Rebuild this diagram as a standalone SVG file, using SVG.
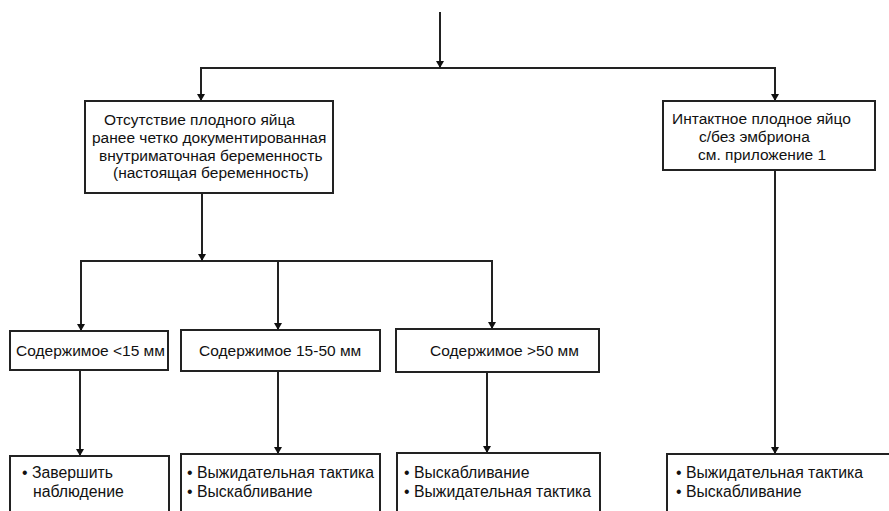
<svg xmlns="http://www.w3.org/2000/svg" width="889" height="511" viewBox="0 0 889 511">
<style>
.box{fill:#fff;stroke:#222;stroke-width:2}
.ln{fill:none;stroke:#222;stroke-width:2}
text{font-family:"Liberation Sans",Arial,sans-serif;font-size:15.5px;fill:#111}
.b text{font-size:15.8px}
</style>
<rect width="889" height="511" fill="#fff"/>
<g id="connectors">
<path class="ln" d="M440,12 V67"/>
<path class="ln" d="M201,101 V68 H775 V101"/>
<path class="ln" d="M202,193 V261"/>
<path class="ln" d="M81,331 V261 H492 V329"/>
<path class="ln" d="M278,261 V330"/>
<path class="ln" d="M80,370 V456"/>
<path class="ln" d="M278,371 V454"/>
<path class="ln" d="M487,372 V453"/>
<path class="ln" d="M775,170 V454"/>
<g fill="#111">
<path d="M436,61 L444,61 L440,68 Z"/>
<path d="M197,94 L205,94 L201,101 Z"/>
<path d="M771,94 L779,94 L775,101 Z"/>
<path d="M198,254 L206,254 L202,261 Z"/>
<path d="M77,324 L85,324 L81,331 Z"/>
<path d="M274,323 L282,323 L278,330 Z"/>
<path d="M488,322 L496,322 L492,329 Z"/>
<path d="M76,449 L84,449 L80,456 Z"/>
<path d="M274,447 L282,447 L278,454 Z"/>
<path d="M483,446 L491,446 L487,453 Z"/>
<path d="M771,447 L779,447 L775,454 Z"/>
</g>
</g>
<g id="node-absent">
<rect class="box" x="85" y="101" width="248" height="92"/>
<text x="104" y="125">Отсутствие плодного яйца</text>
<text x="92" y="143">ранее четко документированная</text>
<text x="99" y="161">внутриматочная беременность</text>
<text x="113" y="178">(настоящая беременность)</text>
</g>
<g id="node-intact">
<rect class="box" x="663" y="101" width="212" height="69"/>
<text x="672" y="124">Интактное плодное яйцо</text>
<text x="699" y="142">с/без эмбриона</text>
<text x="698" y="160">см. приложение 1</text>
</g>
<g id="node-lt15">
<rect class="box" x="10" y="331" width="158" height="39"/>
<text x="16" y="356">Содержимое &lt;15 мм</text>
</g>
<g id="node-15-50">
<rect class="box" x="181" y="330" width="199" height="41"/>
<text x="199" y="356">Содержимое 15-50 мм</text>
</g>
<g id="node-gt50">
<rect class="box" x="396" y="329" width="203" height="43"/>
<text x="430" y="356">Содержимое &gt;50 мм</text>
</g>
<g id="node-a" class="b">
<rect class="box" x="10" y="456" width="159" height="70"/>
<text x="22" y="478">• Завершить</text>
<text x="33" y="497">наблюдение</text>
</g>
<g id="node-b" class="b">
<rect class="box" x="181" y="454" width="199" height="72"/>
<text x="187" y="478">• Выжидательная тактика</text>
<text x="187" y="497">• Выскабливание</text>
</g>
<g id="node-c" class="b">
<rect class="box" x="397" y="453" width="203" height="73"/>
<text x="404" y="478">• Выскабливание</text>
<text x="404" y="497">• Выжидательная тактика</text>
</g>
<g id="node-d" class="b">
<rect class="box" x="667" y="454" width="230" height="72"/>
<text x="676" y="478">• Выжидательная тактика</text>
<text x="676" y="497">• Выскабливание</text>
</g>
</svg>
